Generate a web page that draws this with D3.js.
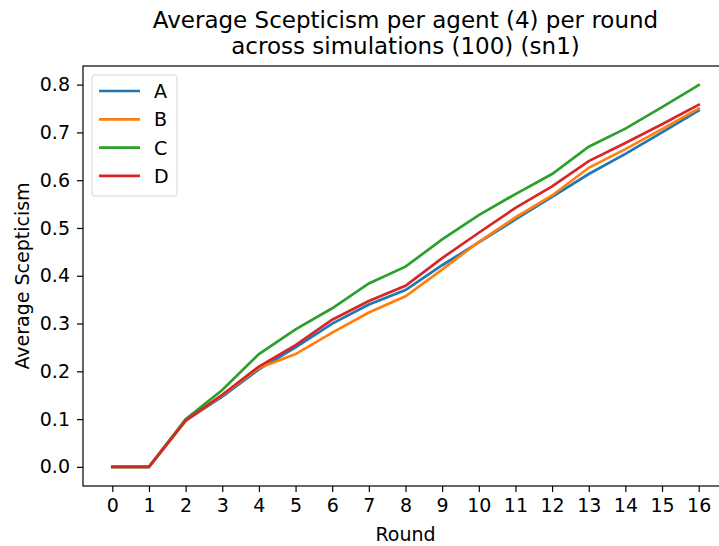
<!DOCTYPE html>
<html>
<head>
<meta charset="utf-8">
<script src="https://cdn.jsdelivr.net/npm/d3@7"></script>
<style>
  body { margin: 0; background: white; }
  svg { font-family: "DejaVu Sans", sans-serif; }
</style>
</head>
<body>
<script>
// rounds and series values
var rounds = d3.range(0, 17);
var seriesNames = ["A", "B", "C", "D"];
var colors = ["#1f77b4", "#ff7f0e", "#2ca02c", "#d62728"];

var valuesA = [0, 0, 0.097, 0.147, 0.204, 0.250, 0.300, 0.340, 0.370, 0.422, 0.470, 0.518, 0.565, 0.613, 0.655, 0.700, 0.746];
var valuesB = [0, 0, 0.097, 0.150, 0.207, 0.236, 0.281, 0.323, 0.357, 0.413, 0.471, 0.522, 0.568, 0.626, 0.665, 0.707, 0.750];
var valuesC = [0, 0, 0.100, 0.161, 0.236, 0.288, 0.332, 0.384, 0.419, 0.476, 0.527, 0.571, 0.613, 0.670, 0.708, 0.753, 0.799];
var valuesD = [0, 0, 0.097, 0.151, 0.210, 0.255, 0.308, 0.347, 0.379, 0.437, 0.490, 0.542, 0.587, 0.640, 0.678, 0.717, 0.758];
var allValues = [valuesA, valuesB, valuesC, valuesD];

var yTicks = [0, 0.1, 0.2, 0.3, 0.4, 0.5, 0.6, 0.7, 0.8];

var width = 719, height = 546;
var margin = {top: 66, right: -9, bottom: 60, left: 83};

var svg = d3.select("body").append("svg")
  .attr("width", width)
  .attr("height", height);

var xScale = d3.scaleLinear()
  .domain([-0.8, 16.8])
  .range([margin.left, width - margin.right]);

var yScale = d3.scaleLinear()
  .domain([-0.04, 0.839])
  .range([height - margin.bottom, margin.top]);

// lines
var line = d3.line()
  .x(function(d, i) { return xScale(rounds[i]); })
  .y(function(d) { return yScale(d); });

svg.append("g")
  .selectAll("path")
  .data(allValues)
  .enter()
  .append("path")
  .attr("d", line)
  .attr("fill", "none")
  .attr("stroke", function(d, i) { return colors[i]; })
  .attr("stroke-width", 2.7)
  .attr("stroke-linecap", "square");

// axes
var xAxis = d3.axisBottom(xScale)
  .tickValues(rounds)
  .tickFormat(d3.format("d"))
  .tickSize(6)
  .tickPadding(7);

var yAxis = d3.axisLeft(yScale)
  .tickValues(yTicks)
  .tickFormat(d3.format(".1f"))
  .tickSize(6)
  .tickPadding(7);

var gx = svg.append("g")
  .attr("transform", "translate(0," + (height - margin.bottom) + ")")
  .call(xAxis);

var gy = svg.append("g")
  .attr("transform", "translate(" + margin.left + ",0)")
  .call(yAxis);

[gx, gy].forEach(function(g) {
  g.select(".domain").remove();
  g.selectAll(".tick line").attr("stroke", "black").attr("stroke-width", 1.2);
  g.selectAll(".tick text").attr("fill", "black").style("font-size", "19px")
    .style("font-family", "DejaVu Sans");
});

// frame (spines)
svg.append("rect")
  .attr("x", margin.left)
  .attr("y", margin.top)
  .attr("width", xScale.range()[1] - margin.left)
  .attr("height", height - margin.bottom - margin.top)
  .attr("fill", "none")
  .attr("stroke", "black")
  .attr("stroke-width", 1.2);

// title
var cx = (margin.left + xScale.range()[1]) / 2;
svg.append("text")
  .attr("x", cx)
  .attr("y", 28)
  .attr("text-anchor", "middle")
  .style("font-size", "23px")
  .text("Average Scepticism per agent (4) per round");

svg.append("text")
  .attr("x", cx)
  .attr("y", 54)
  .attr("text-anchor", "middle")
  .style("font-size", "23px")
  .text("across simulations (100) (sn1)");

// axis labels
svg.append("text")
  .attr("x", cx)
  .attr("y", 541)
  .attr("text-anchor", "middle")
  .style("font-size", "19px")
  .text("Round");

svg.append("text")
  .attr("transform", "rotate(-90)")
  .attr("x", -(margin.top + height - margin.bottom) / 2)
  .attr("y", 29)
  .attr("text-anchor", "middle")
  .style("font-size", "19px")
  .text("Average Scepticism");

// legend
var legend = svg.append("g").attr("transform", "translate(92,75)");

legend.append("rect")
  .attr("width", 85)
  .attr("height", 121)
  .attr("rx", 3)
  .attr("fill", "white")
  .attr("fill-opacity", 0.8)
  .attr("stroke", "#d6d6d6")
  .attr("stroke-width", 1);

var items = legend.selectAll(".item")
  .data(seriesNames)
  .enter()
  .append("g")
  .attr("transform", function(d, i) { return "translate(0," + (16 + i * 28.3) + ")"; });

items.append("line")
  .attr("x1", 7).attr("x2", 48)
  .attr("stroke", function(d, i) { return colors[i]; })
  .attr("stroke-width", 2.7);

items.append("text")
  .attr("x", 62)
  .attr("y", 7)
  .style("font-size", "19px")
  .text(function(d) { return d; });
</script>
</body>
</html>
